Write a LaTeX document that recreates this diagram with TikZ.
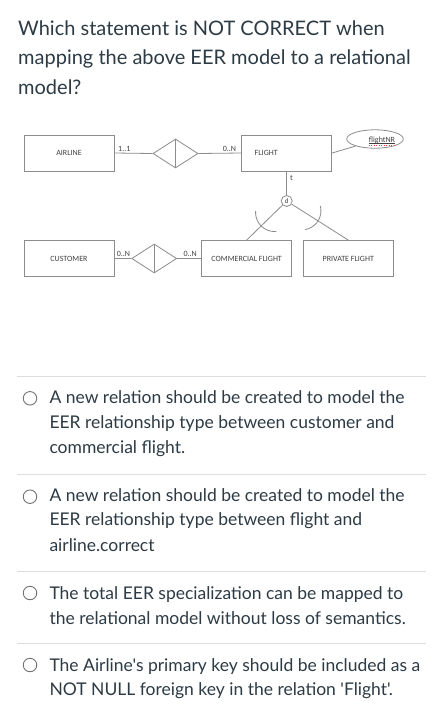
\documentclass[tikz,border=0pt]{standalone}
\usepackage{fontspec}
\setmainfont{Lato}[Ligatures=TeXOff]
\newfontfamily\diafont{Carlito}
\usetikzlibrary{shapes.geometric}
\definecolor{txt}{HTML}{2D3B45}
\definecolor{dline}{HTML}{8C8C8C}
\definecolor{dtxt}{HTML}{404040}
\definecolor{sep}{HTML}{DDDDDD}
\tikzset{
  qtext/.style={anchor=base west, inner sep=0pt, text=txt, font=\fontsize{20}{24}\selectfont},
  otext/.style={anchor=base west, inner sep=0pt, text=txt, font=\fontsize{17.5}{21}\selectfont},
  radio/.style={circle, draw=black!55, line width=0.9pt, minimum size=13.5pt, inner sep=0pt},
  sepline/.style={draw=sep, line width=1pt},
  ent/.style={draw=dline, line width=0.8pt, minimum width=90pt, minimum height=36pt, inner sep=0pt, text=dtxt, font=\diafont\fontsize{8}{9}\selectfont},
  rel/.style={diamond, draw=dline, line width=0.8pt, minimum width=45pt, minimum height=29pt, inner sep=0pt},
  conn/.style={draw=dline, line width=0.8pt},
  card/.style={anchor=base west, inner sep=0pt, text=dtxt, font=\diafont\fontsize{8}{9}\selectfont},
}
\begin{document}
\begin{tikzpicture}[x=1pt, y=-1pt]
\useasboundingbox[fill=white] (0,0) rectangle (444,721);
% question
\node[qtext] (q1) at (18,35) {Which statement is NOT CORRECT when};
\node[qtext] (q2) at (18,64.5) {mapping the above EER model to a relational};
\node[qtext] (q3) at (18,94) {model?};
% diagram
\node[ent] (air) at (69,153) {AIRLINE};
\node[rel] (r1) at (175.5,153.5) {};
\node[ent, text width=64pt, align=left] (fl) at (286.7,153) {FLIGHT};
\node[ellipse, draw=dline, line width=0.8pt, minimum width=56.6pt, minimum height=18.4pt, inner sep=0pt] (nr) at (375,139) {};
\node[card, anchor=base] (nrt) at (382,142.5) {flightNR};
\draw[dtxt, line width=0.5pt] (nrt.base west) ++(0,1.2) -- ++(26.5,0);
\draw[red!80, line width=0.5pt, dotted] (nrt.base west) ++(0,2.6) -- ++(26.5,0);
\draw[conn] (air.east) -- (r1.west);
\draw[conn] (r1.north) -- (r1.south);
\draw[conn] (r1.east) -- (fl.west);
\draw[conn] (fl.east) -- (nr.200);
\node[card] (c1) at (118,151) {1..1};
\node[card] (c2) at (222.7,151) {0..N};
\node[circle, draw=dline, line width=0.8pt, minimum size=11pt, inner sep=0pt, text=dtxt, font=\diafont\fontsize{7}{8}\selectfont] (dn) at (286.7,201) {d};
\draw[conn] (fl.south) -- (dn.north);
\node[card] (tl) at (290,180) {t};
\node[ent] (cf) at (246.7,258.5) {COMMERCIAL FLIGHT};
\node[ent] (pf) at (348.3,258.5) {PRIVATE FLIGHT};
\node[ent] (cu) at (69,258.5) {CUSTOMER};
\node[rel] (r2) at (154.2,258.5) {};
\draw[conn] (dn) -- (cf.north);
\draw[conn] (dn) -- (pf.north);
\draw[conn] plot[smooth, domain=84.5:184.5, samples=25] ({274.6+19*cos(\x)}, {212.5+19*sin(\x)});
\draw[conn] plot[smooth, domain=-15:80.5, samples=25] ({301.9+19*cos(\x)}, {210.8+19*sin(\x)});
\draw[conn] (cu.east) -- (r2.west);
\draw[conn] (r2.north) -- (r2.south);
\draw[conn] (r2.east) -- (cf.west);
\node[card] (c3) at (116.7,256.5) {0..N};
\node[card] (c4) at (183.3,256.5) {0..N};
% separators and options
\draw[sepline] (17,376) -- (426,376);
\draw[sepline] (17,474) -- (426,474);
\draw[sepline] (17,571) -- (426,571);
\draw[sepline] (17,643) -- (426,643);
\node[radio] (o1) at (30,398.3) {};
\node[otext] (a1) at (49.3,403.3) {A new relation should be created to model the};
\node[otext] (a2) at (49.3,428.5) {EER relationship type between customer and};
\node[otext] (a3) at (49.3,453) {commercial flight.};
\node[radio] (o2) at (30,496.7) {};
\node[otext] (b1) at (49.3,501) {A new relation should be created to model the};
\node[otext] (b2) at (49.3,525.5) {EER relationship type between flight and};
\node[otext] (b3) at (49.3,551) {airline.correct};
\node[radio] (o3) at (30,593) {};
\node[otext] (c1t) at (49.3,599) {The total EER specialization can be mapped to};
\node[otext] (c2t) at (49.3,624) {the relational model without loss of semantics.};
\node[radio] (o4) at (30,665) {};
\node[otext] (d1) at (49.3,671) {The Airline's primary key should be included as a};
\node[otext] (d2) at (49.3,695.5) {NOT NULL foreign key in the relation 'Flight'.};
\end{tikzpicture}
\end{document}
